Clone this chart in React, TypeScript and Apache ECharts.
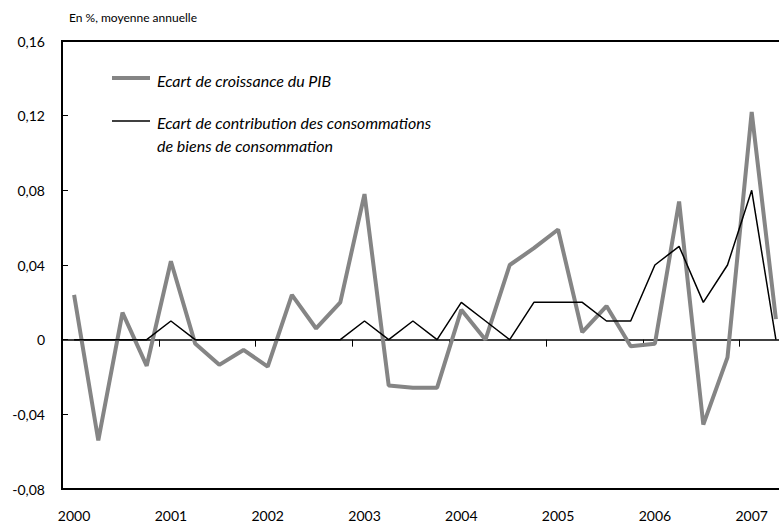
import React, { useEffect, useRef } from "react";
import * as echarts from "echarts";

const years = ["2000", "2001", "2002", "2003", "2004", "2005", "2006", "2007"];
const quarters = ["T1", "T2", "T3", "T4"];
const categories: string[] = [];
years.forEach((y) => quarters.forEach((q) => categories.push(y + " " + q)));
categories.length = 30;

const pibGap = [
  0.024, -0.054, 0.0145, -0.014, 0.042, -0.002, -0.0135, -0.0055, -0.0144, 0.024,
  0.006, 0.02, 0.078, -0.0245, -0.0257, -0.0257, 0.016, 0.0, 0.04, 0.049,
  0.059, 0.004, 0.018, -0.0035, -0.0022, 0.074, -0.0455, -0.0095, 0.122, 0.011,
];

const consoGap = [
  0, 0, 0, 0, 0.01, 0, 0, 0, 0, 0,
  0, 0, 0.01, 0, 0.01, 0, 0.02, 0.01, 0, 0.02,
  0.02, 0.02, 0.01, 0.01, 0.04, 0.05, 0.02, 0.04, 0.08, 0,
];

const yTicks = { min: -0.08, max: 0.16, interval: 0.04 };
const seriesNames = [
  "Ecart de croissance du PIB",
  "Ecart de contribution des consommations",
  "de biens de consommation",
];
const unitLabel = "En %, moyenne annuelle";

const FONT = "Lato, 'Open Sans', sans-serif";

export default function App() {
  const ref = useRef<HTMLDivElement>(null);
  useEffect(() => {
    if (!ref.current) return;
    const chart = echarts.init(ref.current, undefined, { renderer: "svg" });
    chart.setOption({
      animation: false,
      backgroundColor: "#fff",
      textStyle: { fontFamily: FONT },
      grid: {
        left: 62,
        top: 41,
        width: 726,
        bottom: 40,
        show: true,
        borderColor: "#000",
        borderWidth: 2,
        backgroundColor: "transparent",
        outerBoundsMode: "none",
      },
      xAxis: [
        {
          type: "category",
          data: categories,
          boundaryGap: true,
          position: "bottom",
          axisLine: { show: true, onZero: true, lineStyle: { color: "#000", width: 1.5 } },
          axisTick: { show: true, interval: 3, length: 7, lineStyle: { color: "#000", width: 1 } },
          axisLabel: { show: false },
          splitLine: { show: false },
        },
        {
          type: "category",
          data: categories,
          boundaryGap: true,
          position: "bottom",
          axisLine: { show: false, onZero: false },
          axisTick: { show: false },
          axisLabel: {
            show: true,
            interval: 3,
            margin: 19,
            color: "#000",
            fontSize: 14,
            fontFamily: FONT,
            formatter: (v: string) => v.slice(0, 4),
          },
          splitLine: { show: false },
        },
      ],
      yAxis: {
        type: "value",
        min: yTicks.min,
        max: yTicks.max,
        interval: yTicks.interval,
        axisLine: { show: true, lineStyle: { color: "#000", width: 2 } },
        axisTick: { show: true, inside: true, length: 6, lineStyle: { color: "#000", width: 1 } },
        splitLine: { show: false },
        axisLabel: {
          color: "#000",
          fontSize: 14,
          margin: 17,
          fontFamily: FONT,
          formatter: (v: number) =>
            Math.abs(v) < 1e-9 ? "0" : v.toFixed(2).replace(".", ","),
        },
      },
      series: [
        {
          name: seriesNames[0],
          type: "line",
          data: pibGap,
          symbol: "none",
          lineStyle: { color: "#858585", width: 4 },
          z: 2,
        },
        {
          name: seriesNames[1],
          type: "line",
          data: consoGap,
          symbol: "none",
          lineStyle: { color: "#000", width: 1.5 },
          z: 3,
        },
      ],
      graphic: [
        {
          type: "text",
          left: 69,
          top: 11,
          style: { text: unitLabel, fontSize: 12, fill: "#000", fontFamily: FONT },
        },
        {
          type: "line",
          shape: { x1: 112, y1: 78, x2: 150, y2: 78 },
          style: { stroke: "#858585", lineWidth: 4 },
        },
        {
          type: "text",
          x: 157,
          y: 80,
          style: {
            text: seriesNames[0],
            fontSize: 16,
            fontStyle: "italic",
            fill: "#000",
            fontFamily: FONT,
            verticalAlign: "middle",
          },
        },
        {
          type: "line",
          shape: { x1: 112, y1: 121, x2: 150, y2: 121 },
          style: { stroke: "#000", lineWidth: 1.5 },
        },
        {
          type: "text",
          x: 157,
          y: 122,
          style: {
            text: seriesNames[1],
            fontSize: 16,
            fontStyle: "italic",
            fill: "#000",
            fontFamily: FONT,
            verticalAlign: "middle",
          },
        },
        {
          type: "text",
          x: 157,
          y: 145,
          style: {
            text: seriesNames[2],
            fontSize: 16,
            fontStyle: "italic",
            fill: "#000",
            fontFamily: FONT,
            verticalAlign: "middle",
          },
        },
      ],
    });
    return () => chart.dispose();
  }, []);
  return (
    <div style={{ position: "absolute", left: 0, top: 0, width: 779, height: 529, overflow: "hidden" }}>
      <div ref={ref} style={{ width: 792, height: 529 }} />
    </div>
  );
}
